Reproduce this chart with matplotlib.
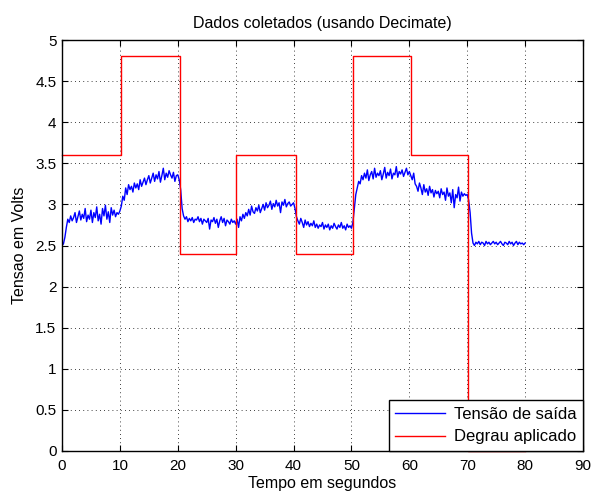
import numpy as np
import matplotlib
matplotlib.use('Agg')
import matplotlib.pyplot as plt

plt.rcParams['font.family'] = ['Liberation Sans', 'DejaVu Sans']

dt = 0.25
saida = [
    2.50, 2.52, 2.60, 2.72, 2.82, 2.78, 2.86, 2.80, 2.84, 2.90, 2.78, 2.85, 2.92, 2.81, 2.88, 2.83, 2.95, 2.79, 2.87, 2.82,
    2.93, 2.78, 2.90, 2.84, 2.97, 2.80, 2.88, 2.76, 2.95, 2.86, 2.99, 2.82, 2.91, 2.78, 2.96, 2.87, 2.93, 2.85, 2.90, 2.88,
    2.92, 2.98, 3.10, 3.05, 3.20, 3.12, 3.24, 3.18, 3.22, 3.15, 3.26, 3.20, 3.25, 3.18, 3.30, 3.22, 3.27, 3.32, 3.24, 3.30,
    3.35, 3.26, 3.32, 3.38, 3.28, 3.36, 3.31, 3.40, 3.27, 3.35, 3.44, 3.30, 3.38, 3.33, 3.41, 3.36, 3.32, 3.39, 3.28, 3.35,
    3.36, 3.30, 3.18, 2.95, 2.86, 2.82, 2.85, 2.79, 2.83, 2.80, 2.84, 2.78, 2.82, 2.81, 2.85, 2.79, 2.83, 2.76, 2.82, 2.80,
    2.78, 2.83, 2.70, 2.81, 2.79, 2.84, 2.77, 2.82, 2.72, 2.80, 2.85, 2.78, 2.83, 2.74, 2.81, 2.79, 2.76, 2.82, 2.78, 2.80,
    2.76, 2.82, 2.72, 2.85, 2.80, 2.88, 2.83, 2.90, 2.86, 2.94, 2.87, 2.98, 2.91, 2.89, 2.96, 2.92, 2.99, 2.90, 2.95, 3.00,
    2.93, 3.02, 2.96, 2.99, 3.04, 2.94, 3.01, 2.97, 3.05, 2.98, 3.02, 2.90, 3.03, 2.99, 3.06, 2.97, 3.01, 3.03, 2.98, 3.00,
    3.02, 2.95, 2.85, 2.80, 2.76, 2.83, 2.78, 2.72, 2.81, 2.75, 2.79, 2.73, 2.77, 2.74, 2.80, 2.72, 2.76, 2.71, 2.75, 2.73,
    2.78, 2.70, 2.75, 2.72, 2.76, 2.69, 2.74, 2.71, 2.77, 2.73, 2.70, 2.75, 2.72, 2.78, 2.71, 2.74, 2.69, 2.76, 2.72, 2.74,
    2.71, 2.78, 2.95, 3.12, 3.20, 3.28, 3.25, 3.35, 3.30, 3.38, 3.32, 3.42, 3.29, 3.36, 3.40, 3.31, 3.44, 3.33, 3.38, 3.35,
    3.41, 3.30, 3.37, 3.45, 3.32, 3.39, 3.35, 3.43, 3.31, 3.38, 3.36, 3.46, 3.33, 3.40, 3.37, 3.42, 3.34, 3.39, 3.44, 3.36,
    3.40, 3.35, 3.30, 3.38, 3.25, 3.22, 3.16, 3.26, 3.20, 3.12, 3.24, 3.15, 3.19, 3.11, 3.22, 3.14, 3.18, 3.09, 3.17, 3.13,
    3.16, 3.08, 3.19, 3.12, 3.15, 3.05, 3.20, 3.10, 3.14, 3.02, 3.18, 2.96, 3.12, 3.08, 3.21, 3.04, 3.15, 3.10, 3.13, 3.11,
    3.12, 3.05, 2.90, 2.65, 2.53, 2.50, 2.54, 2.52, 2.55, 2.51, 2.54, 2.53, 2.50, 2.55, 2.52, 2.54, 2.51, 2.53, 2.55, 2.52,
    2.54, 2.51, 2.53, 2.55, 2.52, 2.50, 2.54, 2.53, 2.51, 2.55, 2.52, 2.54, 2.50, 2.53, 2.55, 2.51, 2.54, 2.52, 2.53, 2.51,
    2.53,
]
tempo = np.arange(len(saida)) * dt

# degrau aplicado
degrau_t = [0, 10.2, 20.3, 30.1, 40.4, 50.2, 60.3, 70.2, 80]
degrau_v = [3.6, 4.8, 2.4, 3.6, 2.4, 4.8, 3.6, 0, 0]

fig = plt.figure(figsize=(5.92, 4.91), dpi=100)
ax = fig.add_axes([62/592, 1 - 451/491, 521/592, 411/491])

ax.plot(tempo, saida, color='blue', linewidth=1, label='Tensão de saída')
ax.step(degrau_t, degrau_v, where='post', color='red', linewidth=1,
        label='Degrau aplicado', clip_on=False)

ax.set_xlim(0, 90)
ax.set_ylim(0, 5)
ax.set_xticks(np.arange(0, 91, 10))
ax.set_yticks(np.arange(0, 5.01, 0.5))
ax.set_yticklabels(['0', '0.5', '1', '1.5', '2', '2.5', '3', '3.5', '4', '4.5', '5'])
ax.grid(True, color='black', linestyle=(0, (1, 4)), linewidth=0.6)
ax.tick_params(direction='in', top=True, right=True, labelsize=11, length=4)
ax.tick_params(axis='x', pad=6)
ax.tick_params(axis='y', pad=4)
for s in ax.spines.values():
    s.set_linewidth(1)

ax.set_title('Dados coletados (usando Decimate)', fontsize=11.5, pad=9)
ax.set_xlabel('Tempo em segundos', fontsize=11.5, labelpad=2)
ax.set_ylabel('Tensao em Volts', fontsize=11.5, labelpad=6)

leg = ax.legend(loc='lower right', fontsize=12, fancybox=False, framealpha=1,
                edgecolor='black', borderaxespad=0.0, handlelength=3.0,
                handletextpad=0.5, borderpad=0.4, labelspacing=0.45)
leg.get_frame().set_linewidth(1)

fig.savefig('out.png', dpi=100)
